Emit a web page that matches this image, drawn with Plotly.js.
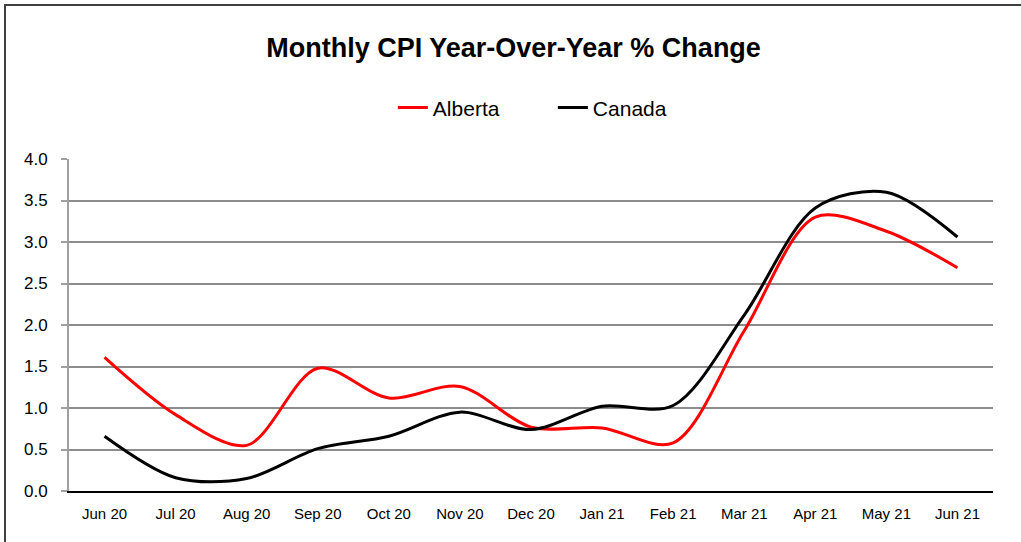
<!DOCTYPE html>
<html>
<head>
<meta charset="utf-8">
<script src="https://cdn.plot.ly/plotly-3.0.1.min.js"></script>
<style>
  html, body { margin: 0; padding: 0; background: #ffffff; }
  #frame { position: absolute; left: 4px; top: 4px; width: 1030px; height: 560px;
           border-left: 2px solid #404040; border-top: 2px solid #404040; box-sizing: border-box; }
  #chart { position: absolute; left: 0; top: 0; width: 1021px; height: 542px; }
</style>
</head>
<body>
<div id="frame"></div>
<div id="chart"></div>
<script>
const months = ["Jun 20","Jul 20","Aug 20","Sep 20","Oct 20","Nov 20","Dec 20","Jan 21","Feb 21","Mar 21","Apr 21","May 21","Jun 21"];
const alberta = [1.61, 0.92, 0.55, 1.48, 1.12, 1.26, 0.77, 0.76, 0.58, 1.93, 3.30, 3.13, 2.69];
const canada  = [0.66, 0.16, 0.15, 0.51, 0.66, 0.95, 0.74, 1.02, 1.03, 2.12, 3.41, 3.60, 3.06];
const yTicks = [0, 0.5, 1, 1.5, 2, 2.5, 3, 3.5, 4];

const font = "Liberation Sans, Arial, sans-serif";

const traces = [
  { x: months, y: alberta, name: "Alberta", type: "scatter", mode: "lines",
    line: { color: "#ff0000", width: 3, shape: "spline", smoothing: 0.9 } },
  { x: months, y: canada, name: "Canada", type: "scatter", mode: "lines",
    line: { color: "#000000", width: 3, shape: "spline", smoothing: 0.9 } }
];

const layout = {
  width: 1021, height: 542,
  margin: { l: 69, r: 28, t: 159, b: 51 },
  paper_bgcolor: "rgba(0,0,0,0)",
  plot_bgcolor: "#ffffff",
  font: { family: font, color: "#000000", size: 15 },
  title: { text: "<b>Monthly CPI Year-Over-Year % Change</b>",
           font: { family: font, size: 27, color: "#000000" },
           x: 0.503, xanchor: "center", y: 0.912, yanchor: "middle" },
  showlegend: true,
  legend: { orientation: "h", x: 0.3505, xanchor: "left", y: 1.154, yanchor: "middle",
            font: { family: font, size: 21 }, entrywidth: 115, entrywidthmode: "pixels",
            tracegroupgap: 0 },
  xaxis: { type: "category", range: [-0.5, 12.5], showgrid: false,
           showline: true, linecolor: "#000000", linewidth: 2, ticks: "",
           tickfont: { family: font, size: 15 }, ticklabelstandoff: 8, fixedrange: true },
  yaxis: { range: [0, 4], tickvals: yTicks, ticktext: yTicks.map(v => v.toFixed(1)),
           showgrid: true, gridcolor: "#8c8c8c", gridwidth: 2,
           showline: true, linecolor: "#a0a0a0", linewidth: 2,
           ticks: "outside", ticklen: 6, tickcolor: "#a0a0a0", tickwidth: 2,
           ticklabelstandoff: 10,
           zeroline: false, tickfont: { family: font, size: 17 }, fixedrange: true }
};

Plotly.newPlot("chart", traces, layout, { displayModeBar: false, staticPlot: true });
</script>
</body>
</html>
